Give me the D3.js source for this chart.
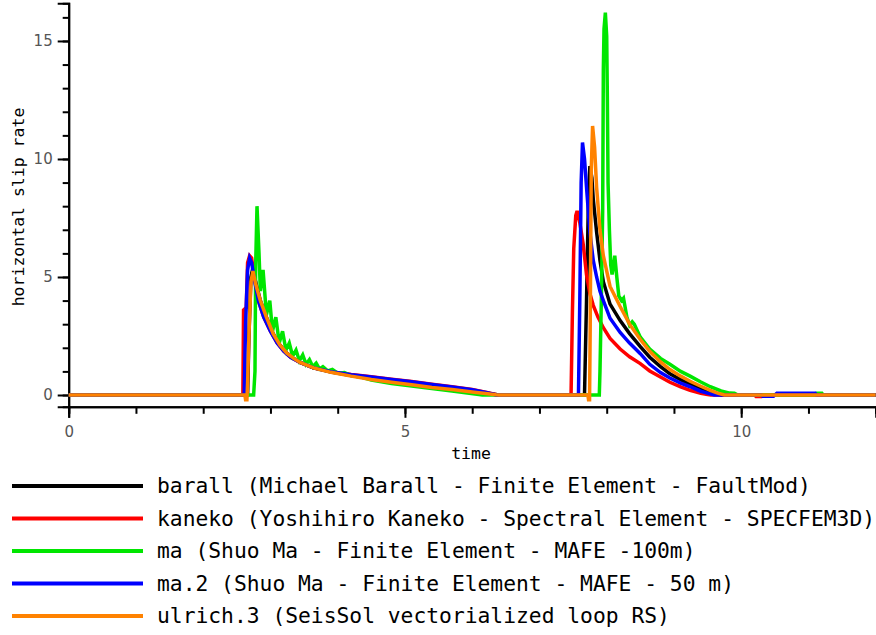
<!DOCTYPE html>
<html>
<head>
<meta charset="utf-8">
<script src="https://cdn.jsdelivr.net/npm/d3@7"></script>
<style>
    html, body { margin: 0; padding: 0; background: #fff; }
    svg { display: block; }
</style>
</head>
<body>
<div id="chart"></div>
<script>
// 坐标轴刻度
const xMinorTicks = [0, 1, 2, 3, 4, 5, 6, 7, 8, 9, 10, 11, 12];
const xMajorTicks = [0, 5, 10];
const yMinorTicks = [0, 1, 2, 3, 4, 5, 6, 7, 8, 9, 10, 11, 12, 13, 14, 15, 16];
const yMajorTicks = [0, 5, 10, 15];

// 图例
const seriesKeys = ['barall', 'kaneko', 'ma', 'ma.2', 'ulrich.3'];
const seriesLabels = [
    'barall (Michael Barall - Finite Element - FaultMod)',
    'kaneko (Yoshihiro Kaneko - Spectral Element - SPECFEM3D)',
    'ma (Shuo Ma - Finite Element - MAFE -100m)',
    'ma.2 (Shuo Ma - Finite Element - MAFE - 50 m)',
    'ulrich.3 (SeisSol vectorialized loop RS)'
];
const seriesColors = ['#000000', '#ff0000', '#00e600', '#0000ff', '#ff8200'];

// [time, slip rate]
const barall = [
    [0, 0], [2.66, 0], [2.68, 2.5], [2.71, 5.0], [2.74, 5.4], [2.78, 4.8], [2.85, 4.0], [2.94, 3.3],
    [3.04, 2.6], [3.14, 2.12], [3.24, 1.78], [3.34, 1.56], [3.44, 1.38], [3.64, 1.15], [3.9, 0.97],
    [4.2, 0.82], [4.5, 0.69], [4.8, 0.57], [5.1, 0.46], [5.4, 0.35], [5.7, 0.25], [6.0, 0.15],
    [6.2, 0.08], [6.35, 0.02], [6.4, 0], [7.67, 0], [7.70, 4.0], [7.73, 8.5], [7.75, 9.7], [7.78, 9.2],
    [7.80, 8.3], [7.85, 6.9], [7.90, 5.7], [7.95, 4.8], [8.05, 3.85], [8.2, 3.15], [8.34, 2.6],
    [8.5, 2.05], [8.64, 1.6], [8.8, 1.2], [8.94, 0.9], [9.1, 0.65], [9.24, 0.46], [9.4, 0.27],
    [9.54, 0.13], [9.65, 0.03], [9.7, 0], [12, 0]
];
const kaneko = [
    [0, 0], [2.59, 0], [2.60, 3.6], [2.64, 3.7], [2.66, 5.6], [2.69, 5.9], [2.72, 5.8], [2.76, 5.0],
    [2.82, 4.0], [2.9, 3.3], [3.0, 2.7], [3.1, 2.2], [3.2, 1.85], [3.3, 1.6], [3.44, 1.38],
    [3.64, 1.15], [3.9, 0.99], [4.2, 0.87], [4.5, 0.77], [4.8, 0.67], [5.1, 0.57], [5.4, 0.46],
    [5.7, 0.35], [6.0, 0.23], [6.2, 0.12], [6.3, 0.05], [6.38, 0], [7.47, 0], [7.49, 3.5],
    [7.51, 6.2], [7.54, 7.6], [7.56, 7.8], [7.60, 7.3], [7.65, 6.4], [7.70, 5.1], [7.75, 4.3],
    [7.80, 3.8], [7.87, 3.3], [7.95, 2.85], [8.05, 2.4], [8.2, 1.95], [8.34, 1.62], [8.5, 1.33],
    [8.64, 1.02], [8.8, 0.76], [8.94, 0.54], [9.1, 0.34], [9.24, 0.2], [9.4, 0.07], [9.5, 0.02],
    [9.55, 0], [10.2, 0], [10.22, -0.06], [10.3, -0.06], [10.32, 0], [12, 0]
];
const ma = [
    [0, 0], [2.75, 0], [2.77, 1.0], [2.78, 5.5], [2.80, 8.0], [2.83, 6.0], [2.85, 4.4], [2.89, 5.3],
    [2.94, 3.4], [2.99, 4.0], [3.03, 2.7], [3.08, 3.3], [3.13, 2.2], [3.18, 2.7], [3.23, 1.9],
    [3.28, 2.2], [3.33, 1.65], [3.38, 1.9], [3.43, 1.45], [3.48, 1.7], [3.53, 1.3], [3.58, 1.5],
    [3.63, 1.2], [3.68, 1.35], [3.73, 1.1], [3.78, 1.2], [3.85, 1.02], [3.92, 1.08], [4.0, 0.92],
    [4.1, 0.95], [4.2, 0.82], [4.35, 0.76], [4.5, 0.63], [4.8, 0.49], [5.1, 0.38], [5.4, 0.27],
    [5.7, 0.17], [5.9, 0.09], [6.1, 0.02], [6.15, 0], [7.89, 0], [7.90, 1.0], [7.92, 4.0],
    [7.94, 7.8], [7.95, 13.8], [7.96, 15.5], [7.98, 16.2], [8.00, 15.2], [8.01, 12.5], [8.02, 9.0],
    [8.04, 7.0], [8.06, 5.5], [8.08, 5.1], [8.10, 5.5], [8.12, 5.9], [8.15, 5.0], [8.18, 4.2],
    [8.22, 4.0], [8.25, 4.1], [8.30, 3.3], [8.34, 2.95], [8.38, 3.1], [8.41, 3.0], [8.5, 2.45],
    [8.64, 1.95], [8.8, 1.55], [8.94, 1.3], [9.1, 1.0], [9.24, 0.8], [9.4, 0.55], [9.54, 0.35],
    [9.7, 0.17], [9.83, 0.08], [9.9, 0.07], [9.95, 0], [11.1, 0], [11.12, 0.07], [11.2, 0.07],
    [11.22, 0], [12, 0]
];
const ma2 = [
    [0, 0], [2.61, 0], [2.63, 3.0], [2.66, 5.3], [2.69, 5.8], [2.72, 5.6], [2.76, 4.9], [2.82, 4.0],
    [2.9, 3.3], [3.0, 2.7], [3.1, 2.2], [3.2, 1.85], [3.3, 1.6], [3.44, 1.38], [3.64, 1.15],
    [3.9, 0.99], [4.2, 0.86], [4.5, 0.76], [4.8, 0.66], [5.1, 0.56], [5.4, 0.45], [5.7, 0.34],
    [6.0, 0.22], [6.2, 0.11], [6.3, 0.04], [6.36, 0], [7.58, 0], [7.60, 4.0], [7.62, 9.0],
    [7.64, 10.7], [7.67, 10.0], [7.70, 8.8], [7.75, 6.9], [7.80, 5.7], [7.85, 5.0], [7.90, 4.4],
    [7.95, 4.0], [8.05, 3.25], [8.2, 2.65], [8.34, 2.2], [8.5, 1.75], [8.64, 1.3], [8.8, 0.95],
    [8.94, 0.72], [9.1, 0.5], [9.24, 0.35], [9.4, 0.16], [9.54, 0.05], [9.6, 0], [10.3, 0],
    [10.32, -0.05], [10.48, -0.05], [10.5, 0], [10.53, 0.07], [11.1, 0.07], [11.12, 0], [12, 0]
];
const ulrich3 = [
    [0, 0], [2.62, 0], [2.63, -0.2], [2.65, -0.2], [2.66, 0.5], [2.68, 2.5], [2.71, 4.8], [2.74, 5.25],
    [2.78, 4.7], [2.85, 4.0], [2.94, 3.3], [3.04, 2.6], [3.14, 2.12], [3.24, 1.78], [3.34, 1.56],
    [3.44, 1.38], [3.64, 1.15], [3.9, 0.96], [4.2, 0.8], [4.5, 0.66], [4.8, 0.54], [5.1, 0.43],
    [5.4, 0.32], [5.7, 0.23], [6.0, 0.13], [6.2, 0.06], [6.35, 0.01], [6.4, 0], [7.72, 0],
    [7.73, -0.2], [7.745, -0.2], [7.755, 3.0], [7.77, 9.5], [7.79, 11.4], [7.82, 10.5], [7.85, 8.8],
    [7.90, 7.0], [7.95, 5.9], [8.05, 4.6], [8.2, 3.75], [8.34, 3.0], [8.5, 2.35], [8.64, 1.85],
    [8.8, 1.4], [8.94, 1.08], [9.1, 0.8], [9.24, 0.58], [9.4, 0.37], [9.54, 0.2], [9.65, 0.08],
    [9.75, 0], [12, 0]
];
const seriesData = [barall, kaneko, ma, ma2, ulrich3];

/**
 * 滑移速率图
 */
const SlipChart = (function() {
    'use strict';

    let svg = null;
    let xScale = null;
    let yScale = null;

    // 尺寸配置
    const width = 876;
    const height = 635;
    const plot = { left: 68.7, right: 875.7, top: 3.2, bottom: 406.8 };

    function init(selector) {
        svg = d3.select(selector)
            .append('svg')
            .attr('width', width)
            .attr('height', height);

        xScale = d3.scaleLinear().domain([0, 12]).range([plot.left, plot.right]);
        yScale = d3.scaleLinear().domain([-0.5, 16.6]).range([plot.bottom, plot.top]);

        drawAxes();
        drawLines();
        drawLegend();
    }

    /**
     * 绘制坐标轴
     */
    function drawAxes() {
        const gx = svg.append('g')
            .attr('transform', `translate(0,${plot.bottom})`);

        gx.append('g')
            .call(d3.axisBottom(xScale).tickValues(xMinorTicks).tickSize(7).tickFormat(''));
        gx.append('g')
            .call(d3.axisBottom(xScale).tickValues(xMajorTicks).tickSize(11).tickPadding(9).tickFormat(d3.format('d')));

        const gy = svg.append('g')
            .attr('transform', `translate(${plot.left},0)`);

        gy.append('g')
            .call(d3.axisLeft(yScale).tickValues(yMinorTicks).tickSize(6).tickFormat(''));
        gy.append('g')
            .call(d3.axisLeft(yScale).tickValues(yMajorTicks).tickSize(11).tickPadding(5).tickFormat(d3.format('d')));

        svg.selectAll('.domain, .tick line')
            .attr('stroke', '#000')
            .attr('stroke-width', 2);
        svg.selectAll('.tick text')
            .attr('fill', '#555')
            .style('font-family', '"DejaVu Sans", sans-serif')
            .style('font-size', '15px');

        // 轴标题
        svg.append('text')
            .attr('x', 471)
            .attr('y', 459)
            .attr('text-anchor', 'middle')
            .style('font-family', '"DejaVu Sans Mono", monospace')
            .style('font-size', '16.5px')
            .text('time');

        svg.append('text')
            .attr('transform', 'translate(24,207) rotate(-90)')
            .attr('text-anchor', 'middle')
            .style('font-family', '"DejaVu Sans Mono", monospace')
            .style('font-size', '16.5px')
            .text('horizontal slip rate');
    }

    /**
     * 绘制曲线
     */
    function drawLines() {
        const line = d3.line()
            .x(d => xScale(d[0]))
            .y(d => yScale(d[1]));

        seriesData.forEach((data, i) => {
            svg.append('path')
                .datum(data)
                .attr('class', 'series ' + seriesKeys[i])
                .attr('fill', 'none')
                .attr('stroke', seriesColors[i])
                .attr('stroke-width', 3.5)
                .attr('stroke-linejoin', 'miter')
                .attr('d', line);
        });
    }

    /**
     * 绘制图例
     */
    function drawLegend() {
        const g = svg.append('g').attr('class', 'legend');
        const rowY = d3.scalePoint().domain(seriesKeys).range([486, 616]);

        seriesKeys.forEach((key, i) => {
            const y = rowY(key);
            g.append('line')
                .attr('x1', 12)
                .attr('x2', 143)
                .attr('y1', y)
                .attr('y2', y)
                .attr('stroke', seriesColors[i])
                .attr('stroke-width', 4);
            g.append('text')
                .attr('x', 157)
                .attr('y', y + 7)
                .style('font-family', '"DejaVu Sans Mono", monospace')
                .style('font-size', '21.3px')
                .text(seriesLabels[i]);
        });
    }

    return { init };
})();

SlipChart.init('#chart');
</script>
</body>
</html>
